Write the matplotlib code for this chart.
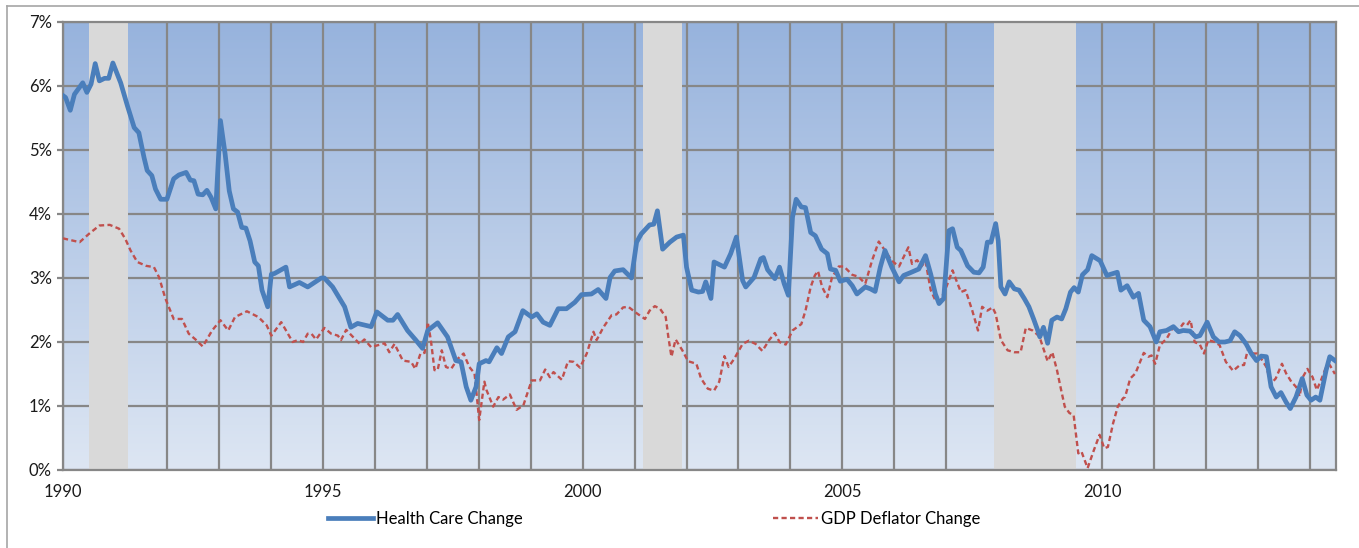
import numpy as np
import matplotlib
matplotlib.use("Agg")
import matplotlib.pyplot as plt
from matplotlib.lines import Line2D
from matplotlib.colors import LinearSegmentedColormap

plt.rcParams['font.family'] = ['Lato', 'DejaVu Sans']

# ---- data (decimal year, % change) ----
hc_t = [1990.0, 1990.05, 1990.14, 1990.22, 1990.38, 1990.46, 1990.54, 1990.62, 1990.7, 1990.8, 1990.88, 1990.96,
        1991.11, 1991.24, 1991.37, 1991.46, 1991.56, 1991.62, 1991.71, 1991.78, 1991.88, 1992.0, 1992.13, 1992.23,
        1992.37, 1992.45, 1992.52, 1992.6, 1992.69, 1992.77, 1992.85, 1992.94, 1993.03, 1993.12, 1993.2, 1993.28,
        1993.36, 1993.44, 1993.52, 1993.6, 1993.69, 1993.76, 1993.83, 1993.94, 1994.01, 1994.07, 1994.29, 1994.36,
        1994.55, 1994.71, 1994.97, 1995.03, 1995.19, 1995.42, 1995.54, 1995.67, 1995.93, 1996.04, 1996.25, 1996.35,
        1996.44, 1996.63, 1996.79, 1996.92, 1997.02, 1997.21, 1997.4, 1997.56, 1997.66, 1997.76, 1997.85, 1997.95,
        1998.01, 1998.14, 1998.2, 1998.35, 1998.44, 1998.57, 1998.7, 1998.85, 1999.02, 1999.12, 1999.24, 1999.37,
        1999.53, 1999.69, 1999.85, 1999.98, 2000.17, 2000.3, 2000.45, 2000.53, 2000.62, 2000.78, 2000.94, 2001.04,
        2001.13, 2001.29, 2001.37, 2001.44, 2001.54, 2001.68, 2001.81, 2001.94, 2002.0, 2002.1, 2002.23, 2002.31,
        2002.37, 2002.47, 2002.53, 2002.73, 2002.85, 2002.96, 2003.08, 2003.14, 2003.3, 2003.43, 2003.48, 2003.56,
        2003.7, 2003.79, 2003.88, 2003.96, 2004.04, 2004.11, 2004.21, 2004.29, 2004.39, 2004.48, 2004.6, 2004.71,
        2004.77, 2004.87, 2004.96, 2005.09, 2005.19, 2005.28, 2005.44, 2005.54, 2005.63, 2005.73, 2005.82, 2005.95,
        2006.09, 2006.18, 2006.3, 2006.47, 2006.6, 2006.7, 2006.79, 2006.86, 2006.95, 2007.05, 2007.12, 2007.21,
        2007.28, 2007.41, 2007.53, 2007.63, 2007.71, 2007.79, 2007.86, 2007.95, 2008.0, 2008.05, 2008.13, 2008.21,
        2008.31, 2008.4, 2008.5, 2008.59, 2008.68, 2008.76, 2008.8, 2008.87, 2008.95, 2009.03, 2009.13, 2009.22,
        2009.3, 2009.39, 2009.46, 2009.54, 2009.62, 2009.72, 2009.8, 2009.96, 2010.09, 2010.29, 2010.36, 2010.48,
        2010.6, 2010.7, 2010.8, 2010.92, 2011.04, 2011.11, 2011.24, 2011.37, 2011.47, 2011.56, 2011.69, 2011.8,
        2011.88, 2012.02, 2012.14, 2012.25, 2012.36, 2012.46, 2012.55, 2012.65, 2012.77, 2012.87, 2012.97, 2013.06,
        2013.16, 2013.25, 2013.35, 2013.44, 2013.54, 2013.62, 2013.73, 2013.85, 2013.94, 2014.02, 2014.11, 2014.19,
        2014.31, 2014.38, 2014.48]
hc_v = [5.85, 5.82, 5.62, 5.87, 6.05, 5.9, 6.03, 6.35, 6.08, 6.12, 6.12, 6.36,
        6.05, 5.69, 5.35, 5.27, 4.88, 4.68, 4.6, 4.39, 4.23, 4.23, 4.55, 4.61,
        4.65, 4.53, 4.52, 4.31, 4.3, 4.37, 4.26, 4.08, 5.46, 4.94, 4.36, 4.08,
        4.03, 3.79, 3.78, 3.58, 3.25, 3.19, 2.81, 2.55, 3.06, 3.07, 3.17, 2.86,
        2.93, 2.86, 3.0, 3.0, 2.86, 2.55, 2.23, 2.29, 2.24, 2.47, 2.34, 2.34,
        2.43, 2.18, 2.03, 1.9, 2.18, 2.3, 2.08, 1.71, 1.69, 1.3, 1.09, 1.3,
        1.66, 1.71, 1.69, 1.91, 1.82, 2.08, 2.16, 2.49, 2.39, 2.44, 2.31, 2.26,
        2.52, 2.52, 2.62, 2.74, 2.75, 2.82, 2.68, 3.01, 3.11, 3.13, 3.0, 3.56,
        3.69, 3.83, 3.84, 4.05, 3.45, 3.56, 3.64, 3.67, 3.17, 2.81, 2.78, 2.79,
        2.94, 2.68, 3.25, 3.17, 3.38, 3.64, 2.96, 2.86, 3.01, 3.3, 3.32, 3.13,
        2.99, 3.17, 2.91, 2.73, 3.95, 4.23, 4.11, 4.1, 3.71, 3.66, 3.45, 3.38,
        3.14, 3.12, 2.95, 2.98, 2.88, 2.75, 2.86, 2.83, 2.79, 3.17, 3.43, 3.17,
        2.94, 3.04, 3.08, 3.14, 3.35, 3.06, 2.75, 2.6, 2.68, 3.74, 3.77, 3.48,
        3.43, 3.19, 3.09, 3.08, 3.17, 3.56, 3.56, 3.85, 3.58, 2.86, 2.75, 2.94,
        2.83, 2.81, 2.68, 2.55, 2.36, 2.18, 2.08, 2.23, 1.98, 2.34, 2.39, 2.36,
        2.52, 2.78, 2.85, 2.78, 3.05, 3.13, 3.35, 3.27, 3.04, 3.09, 2.81, 2.88,
        2.7, 2.76, 2.34, 2.24, 2.0, 2.16, 2.18, 2.24, 2.16, 2.18, 2.17, 2.08,
        2.1, 2.31, 2.08, 2.0, 2.0, 2.02, 2.16, 2.1, 1.97, 1.82, 1.71, 1.78,
        1.77, 1.3, 1.14, 1.21, 1.06, 0.96, 1.14, 1.43, 1.17, 1.09, 1.14, 1.09,
        1.56, 1.77, 1.71]

gdp_t = [1990.0, 1990.05, 1990.32, 1990.5, 1990.7, 1990.9, 1991.08, 1991.2, 1991.3, 1991.43, 1991.6, 1991.75,
         1991.85, 1991.97, 1992.13, 1992.29, 1992.42, 1992.55, 1992.69, 1992.87, 1993.03, 1993.18, 1993.31, 1993.54,
         1993.76, 1993.92, 1994.01, 1994.2, 1994.42, 1994.52, 1994.62, 1994.71, 1994.78, 1994.87, 1995.03, 1995.16,
         1995.29, 1995.35, 1995.45, 1995.58, 1995.71, 1995.8, 1995.93, 1996.06, 1996.19, 1996.28, 1996.38, 1996.54,
         1996.7, 1996.78, 1996.88, 1996.96, 1997.02, 1997.08, 1997.15, 1997.21, 1997.29, 1997.37, 1997.47, 1997.6,
         1997.71, 1997.82, 1997.92, 1998.01, 1998.11, 1998.15, 1998.28, 1998.38, 1998.47, 1998.6, 1998.73, 1998.86,
         1999.02, 1999.18, 1999.28, 1999.37, 1999.44, 1999.6, 1999.72, 1999.83, 1999.95, 2000.08, 2000.21, 2000.27,
         2000.4, 2000.56, 2000.65, 2000.78, 2000.88, 2001.04, 2001.2, 2001.29, 2001.39, 2001.49, 2001.6, 2001.65,
         2001.71, 2001.79, 2001.92, 2002.03, 2002.19, 2002.28, 2002.41, 2002.53, 2002.63, 2002.73, 2002.81, 2002.92,
         2003.08, 2003.2, 2003.33, 2003.46, 2003.59, 2003.7, 2003.79, 2003.91, 2004.04, 2004.21, 2004.29, 2004.39,
         2004.47, 2004.53, 2004.61, 2004.71, 2004.8, 2004.93, 2005.03, 2005.19, 2005.31, 2005.44, 2005.57, 2005.7,
         2005.82, 2005.95, 2006.09, 2006.21, 2006.27, 2006.34, 2006.44, 2006.52, 2006.6, 2006.7, 2006.79, 2006.89,
         2007.01, 2007.12, 2007.18, 2007.28, 2007.37, 2007.5, 2007.61, 2007.69, 2007.79, 2007.89, 2007.95, 2008.05,
         2008.18, 2008.31, 2008.43, 2008.53, 2008.66, 2008.79, 2008.88, 2008.95, 2009.04, 2009.13, 2009.21, 2009.28,
         2009.37, 2009.45, 2009.54, 2009.6, 2009.72, 2009.84, 2009.95, 2010.04, 2010.11, 2010.21, 2010.3, 2010.4,
         2010.44, 2010.54, 2010.64, 2010.8, 2010.89, 2010.95, 2011.02, 2011.11, 2011.24, 2011.37, 2011.45, 2011.56,
         2011.63, 2011.7, 2011.78, 2011.88, 2011.96, 2012.04, 2012.17, 2012.26, 2012.38, 2012.52, 2012.65, 2012.73,
         2012.81, 2012.9, 2012.98, 2013.06, 2013.16, 2013.25, 2013.34, 2013.46, 2013.54, 2013.64, 2013.73, 2013.8,
         2013.86, 2013.95, 2014.05, 2014.13, 2014.21, 2014.31, 2014.38, 2014.48]
gdp_v = [3.62, 3.61, 3.56, 3.69, 3.82, 3.83, 3.77, 3.61, 3.43, 3.25, 3.19, 3.17,
         3.01, 2.68, 2.36, 2.36, 2.13, 2.04, 1.93, 2.18, 2.34, 2.18, 2.39, 2.48,
         2.39, 2.26, 2.1, 2.31, 2.0, 2.03, 2.0, 2.13, 2.13, 2.04, 2.22, 2.13,
         2.1, 2.03, 2.19, 2.08, 1.97, 2.04, 1.92, 1.95, 1.98, 1.84, 1.97, 1.71,
         1.69, 1.58, 1.82, 1.83, 2.31, 2.03, 1.56, 1.56, 1.87, 1.61, 1.58, 1.74,
         1.82, 1.61, 1.51, 0.78, 1.38, 1.25, 0.99, 1.14, 1.1, 1.18, 0.94, 1.01,
         1.4, 1.4, 1.57, 1.45, 1.53, 1.41, 1.7, 1.69, 1.6, 1.82, 2.16, 2.03,
         2.23, 2.42, 2.43, 2.54, 2.55, 2.45, 2.36, 2.49, 2.56, 2.52, 2.39, 2.08,
         1.77, 2.04, 1.87, 1.7, 1.66, 1.43, 1.27, 1.24, 1.38, 1.78, 1.61, 1.74,
         1.97, 2.02, 1.97, 1.86, 2.03, 2.14, 2.0, 1.96, 2.18, 2.28, 2.49, 2.86,
         3.04, 3.11, 2.86, 2.7, 3.01, 3.18, 3.18, 3.05, 3.02, 2.91, 3.27, 3.57,
         3.43, 3.27, 3.18, 3.38, 3.48, 3.22, 3.28, 3.18, 3.26, 2.81, 2.65, 2.65,
         2.88, 3.12, 2.99, 2.78, 2.81, 2.49, 2.18, 2.55, 2.49, 2.54, 2.44, 2.03,
         1.87, 1.84, 1.84, 2.22, 2.18, 2.09, 1.87, 1.7, 1.84, 1.56, 1.25, 0.99,
         0.89, 0.86, 0.26, 0.29, 0.03, 0.31, 0.55, 0.34, 0.36, 0.73, 0.99, 1.12,
         1.14, 1.43, 1.51, 1.83, 1.77, 1.79, 1.66, 1.95, 2.05, 2.24, 2.16, 2.29,
         2.26, 2.34, 2.0, 1.96, 1.82, 2.03, 2.0, 1.95, 1.69, 1.55, 1.64, 1.64,
         1.9, 1.82, 1.82, 1.74, 1.61, 1.35, 1.43, 1.66, 1.51, 1.38, 1.3, 1.15,
         1.45, 1.58, 1.45, 1.25, 1.4, 1.61, 1.64, 1.5]

recessions = [(1990.5, 1991.25), (2001.17, 2001.92), (2007.92, 2009.5)]
y_ticks = [0, 1, 2, 3, 4, 5, 6, 7]
x_label_years = [1990, 1995, 2000, 2005, 2010]
series_names = ["Health Care Change", "GDP Deflator Change"]

# ---- figure ----
W, H = 1359, 548
fig = plt.figure(figsize=(W / 100, H / 100), dpi=100)
fig.patch.set_facecolor('white')
ax = fig.add_axes([63 / W, 1 - 470 / H, (1336 - 63) / W, (470 - 22) / H])

# gradient background
cmap = LinearSegmentedColormap.from_list('bg', ['#DDE6F3', '#97B3DD'])
grad = np.linspace(0, 1, 256).reshape(-1, 1)
ax.imshow(grad, cmap=cmap, aspect='auto', extent=[0, 1, 0, 1], origin='lower',
          transform=ax.transAxes, zorder=0)

ax.set_xlim(1990, 2014.5)
ax.set_ylim(0, 7)

gcol = '#878787'
ax.set_xticks(np.arange(1990, 2015, 1))
ax.set_xticklabels([str(y) if y in x_label_years else '' for y in range(1990, 2015)])
ax.set_yticks(y_ticks)
ax.set_yticklabels([f"{v}%" for v in y_ticks])
ax.grid(True, color=gcol, linewidth=1.6)
ax.set_axisbelow(True)
for sp in ax.spines.values():
    sp.set_color(gcol)
    sp.set_linewidth(1.6)
ax.tick_params(axis='y', length=4, width=1.6, color=gcol, labelsize=12, pad=4)
ax.tick_params(axis='x', length=0, labelsize=12, pad=10)
for lab in ax.get_xticklabels() + ax.get_yticklabels():
    lab.set_color('#1a1a1a')

for a, b in recessions:
    ax.axvspan(a, b, color='#D9D9D9', zorder=2, lw=0)

ax.plot(hc_t, hc_v, color='#4A7EBB', lw=3.4, zorder=4, solid_joinstyle='round',
        label=series_names[0])
ax.plot(gdp_t, gdp_v, color='#C0504D', lw=1.7, zorder=3, linestyle=(0, (2.2, 1.4)),
        label=series_names[1])

leg = fig.legend(loc='center', bbox_to_anchor=(654 / W, 1 - 519 / H), ncol=2, frameon=False,
                 fontsize=12, handlelength=2.7, handletextpad=0.2, columnspacing=15.0)

# outer chart border
fig.add_artist(Line2D([7 / W, 1], [1 - 6 / H, 1 - 6 / H], color='#A6A6A6', lw=1.2))
fig.add_artist(Line2D([7 / W, 7 / W], [0, 1 - 6 / H], color='#A6A6A6', lw=1.2))

fig.savefig('out.png', dpi=100)
